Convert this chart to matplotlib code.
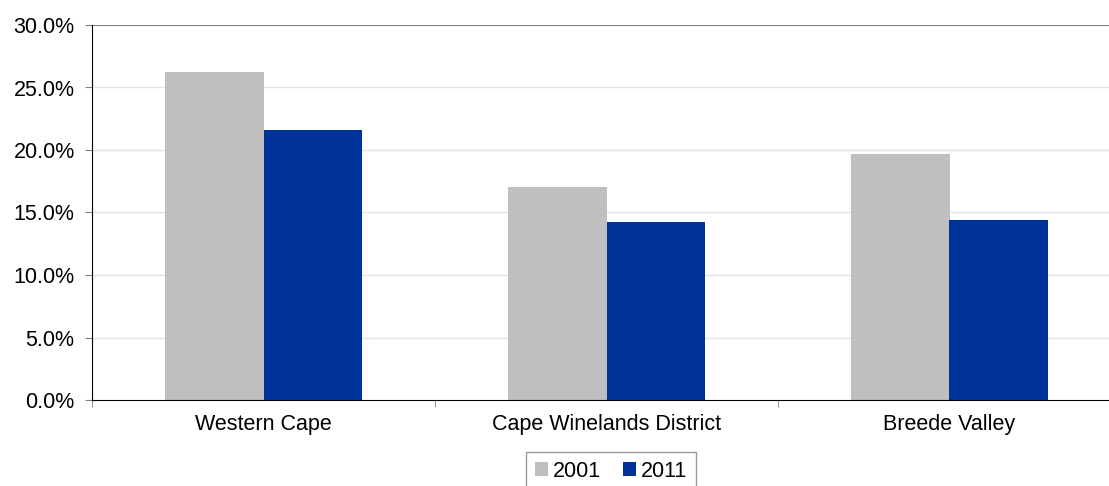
import numpy as np
import matplotlib.pyplot as plt
from matplotlib.ticker import FuncFormatter

plt.rcParams['font.family'] = ['Liberation Sans', 'DejaVu Sans']

regions = ['Western Cape', 'Cape Winelands District', 'Breede Valley']
years = ['2001', '2011']
vals_2001 = [26.2, 17.0, 19.7]
vals_2011 = [21.6, 14.2, 14.4]
colors = ['#BFBFBF', '#003399']

fig = plt.figure(figsize=(11.09, 4.86), dpi=100)
ax = fig.add_axes([92 / 1109, 86 / 486, 1029 / 1109, 375 / 486])

x = np.arange(len(regions))
w = 0.286
ax.bar(x - w / 2, vals_2001, w, color=colors[0], label=years[0], zorder=2)
ax.bar(x + w / 2, vals_2011, w, color=colors[1], label=years[1], zorder=2)

ax.set_xlim(-0.5, len(regions) - 0.5)
ax.set_ylim(0, 30)
ax.set_yticks(np.arange(0, 31, 5))
ax.yaxis.set_major_formatter(FuncFormatter(lambda v, p: '{:.1f}%'.format(v)))
for y in range(5, 30, 5):
    ax.axhline(y, color='#E3E3E3', linewidth=1, zorder=1)
ax.axhline(30, color='#808080', linewidth=1.5, zorder=1)

ax.set_xticks(x)
ax.set_xticklabels(regions)
ax.set_xticks(np.arange(-0.5, len(regions), 1), minor=True)
ax.tick_params(axis='x', which='major', length=0, pad=10, labelsize=15.5)
ax.tick_params(axis='x', which='minor', length=5, color='#808080')
ax.tick_params(axis='y', length=5, color='#808080', labelsize=15.5, pad=7.5)

for s in ['top', 'right']:
    ax.spines[s].set_visible(False)
ax.spines['left'].set_color('black')
ax.spines['bottom'].set_color('black')

leg = fig.legend(loc='upper center', bbox_to_anchor=(611 / 1109, 34 / 486), ncol=2,
                 fontsize=15.5, frameon=True, fancybox=False, handlelength=0.6,
                 handleheight=0.6, handletextpad=0.25, columnspacing=1.0,
                 borderpad=0.4, borderaxespad=0, edgecolor='#808080')
leg.get_frame().set_linewidth(1)

fig.savefig('out.png', dpi=100)
